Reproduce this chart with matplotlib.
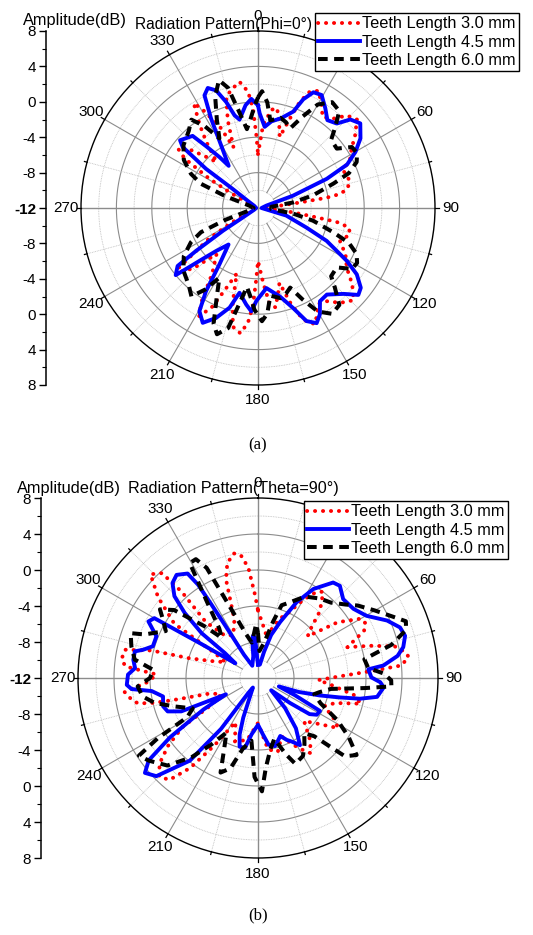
import numpy as np
import matplotlib
matplotlib.use("Agg")
import matplotlib.pyplot as plt

plt.rcParams["font.family"] = ["Liberation Sans", "DejaVu Sans"]

W, H = 533, 935

# ---------------- data: (a) Phi = 0 deg ----------------
a_ang_30 = [0, 3.5, 7.8, 10.8, 13.8, 17, 19.6, 21.5, 24, 27.3, 31.3, 35.4, 40.1, 43.9, 48.2, 53.2, 57.7, 61.9, 66, 70,
            74, 78, 80.3, 81.5, 82.5, 84, 88, 93, 96, 98, 100, 102, 106, 112, 118, 124, 129, 134, 139, 144,
            148, 151, 154, 158, 161, 164, 167, 170, 173, 176, 180, 181.5, 183, 185, 188, 192, 195, 198, 202, 205,
            208.5, 211, 215, 222, 227, 231, 233, 238, 241, 245, 270, 295, 299, 301, 304, 306.7, 310, 314, 318, 322,
            325, 328.5, 331, 335, 338, 341, 344, 347.2, 351.7, 355.1, 357.1, 358.7, 360]
a_db_30 = [-5.9, -2.6, -0.8, -0.5, -2.0, -3.6, -1.3, 0.9, 2.4, 2.9, 1.8, 0.6, 1.2, 2.5, 3.0, 1.7, 0.5, -0.2, -1.5, -1.3,
           -1.2, -1.7, -2.6, -4.2, -7.2, -9.5, -11.5, -11.5, -9, -7, -3, -1.5, -1.2, -2.0, -0.8, 0.1, 1.7, 3.0, 2.2, 1.0,
           0.8, 1.8, 2.6, 1.6, -0.5, -3.2, -2.0, -0.6, -1.0, -3.5, -6.0, -3.8, -0.9, 1.0, 2.3, 1.7, -1.0, -4.2, -2.0, 0.4,
           1.9, 0.5, -3.0, -5.0, -2.0, -0.5, -0.8, -5.5, -8.5, -11, -11.5, -11, -8.3, -5.6, -2, -0.7, -1.5, -3.5, -5, -2.5,
           -0.5, 1.9, 0.5, -2, -4.6, -1.5, 1.0, 1.7, 2.4, 1.2, -0.75, -3.8, -5.9]

a_ang_45 = [0, 1, 4.7, 8.8, 14.6, 20.1, 22.6, 25.6, 29.4, 34, 38.3, 43, 46.2, 50.4, 55.8, 60.1, 64, 67, 70.6, 74,
            90, 105, 112, 115.6, 120.8, 123.9, 127.8, 130.9, 135.1, 141.5, 146.4, 149.8, 153, 156.8, 160.6, 166.1, 174, 181, 183.7, 186.9,
            192.3, 195.9, 200.9, 205.7, 209.6, 212, 214.4, 218.9, 224.3, 227.9, 230.1, 230.8, 234.2, 235.3, 237, 238, 245, 270, 300, 304,
            307, 307, 309, 311, 317.8, 320, 322.9, 325.2, 329.5, 332.3, 334.6, 337.3, 340.4, 343.3, 345.8, 348.2, 353.1, 356.5, 360]
a_db_45 = [-0.4, -1.3, -2.8, -2.1, -1.5, -0.4, 1.3, 2.5, 2.65, 1.6, 0.65, 1.05, 2.45, 3.0, 2.0, 0.7, -0.8, -3.55, -7.8, -11,
           -11.6, -8.7, -6.1, -3.4, -0.3, 1.45, 2.7, 3.0, 1.7, 0.5, 0.65, 1.9, 2.6, 1.9, 0.0, -1.7, -2.9, -1.5, -0.3, -1.0,
           -2.2, -0.3, 1.3, 2.4, 1.4, -0.9, -4.3, -6.7, -5.2, -3.1, -0.9, 0.0, -0.8, -3.5, -7.3, -10, -11.5, -11.8, -11.5, -10.9,
           -8.4, -4.65, -1.05, -0.33, -1.0, -2.9, -4.8, -6.2, -3.8, -0.6, 2.1, 2.7, 2.1, 0.5, -1.2, -1.8, -0.3, 0.35, -0.4]

a_ang_60 = [0, 2, 5, 8, 14, 18, 22, 26, 30, 35, 40, 44, 47, 53, 57, 61, 65, 69, 72, 77,
            81, 85, 95, 99, 103, 108, 111, 115, 119, 123, 127, 133, 136, 140, 145, 150, 154, 158, 162, 166,
            172, 175, 178, 182, 185, 188, 191, 194, 198, 201, 205, 209, 213, 217, 222, 230, 237, 243, 247, 250,
            255, 270, 285, 290, 293, 297, 303, 310, 318, 323, 327, 331, 335, 339, 343, 346, 349, 352, 355, 358, 360]
a_db_60 = [0.5, 1.2, 0.0, -2.0, -1.5, -1.8, -2.3, -0.5, 1.5, 2.6, 2.3, 0.5, -0.7, -0.85, 0.65, 0.8, 0.3, -1.0, -3.0, -5.6,
           -8.0, -10.5, -10.5, -8, -5.6, -3.0, -1.0, 0.3, 0.8, 0.65, -0.85, -0.7, 0.5, 2.3, 2.6, 1.5, -0.5, -2.3, -1.8, -1.5,
           -2.0, 0.0, 0.8, -0.5, -2.0, -3.0, -1.0, 2.0, 3.0, 2.0, -1.0, -3.0, -1.0, 0.5, -0.3, -1.0, -2.0, -3.5, -5, -8,
           -11, -11.5, -11, -8, -5, -3.5, -2.0, -1.0, -0.3, 0.5, -1.0, -3.0, -1.0, 1.5, 3.1, 2.0, -1.0, -3.0, -2.0, -0.5, 0.5]

# ---------------- data: (b) Theta = 90 deg ----------------
b_ang_30 = [0, 5, 10, 15, 20, 25, 30, 34, 37, 40, 43, 47, 50, 55, 60, 63, 66, 71, 74, 77,
            80, 82, 85, 86.5, 89, 92, 95, 100, 104, 108, 113, 118, 122, 127, 133, 140, 145, 150, 158, 165,
            172, 180, 190, 200, 207, 213, 217, 221, 225, 229, 233, 237, 240, 246, 252, 255, 256.5, 258, 260, 264,
            268, 272, 275, 278, 282, 284.5, 286, 290, 296, 300, 303, 309, 314, 317.5, 318.5, 317, 322, 330, 338, 342,
            345, 349, 352, 355, 358, 360]
b_db_30 = [-4.5, -6, -7, -6.5, -5, -4, -2, -0.5, 0.0, -1, -2, -4, -4.8, -1.2, 1.2, 1.4, 0.9, -1.5, 1.0, 3.6,
           4.6, 4.9, 4.0, 0.6, -3.1, -5.3, -4, -1.2, -0.2, -3, -4, -2.5, -1.5, -3.5, -5, -3, -1.8, -3, -5, -3.5,
           -4, -7, -5, -4.5, -6.5, -3, 0.5, 3.0, 3.5, 2.5, 0.5, -2, -6, -7.5, -6.5, -3, -0.2, 1.6, 2.2, 2.9,
           0.2, -0.7, 2.8, 3.3, 3.1, 0.2, -4, -6.5, -8, -6.4, -0.9, 2.3, 4.6, 3.8, 0.8, -3.5, -6, -6.5, -5, -0.5,
           1.2, 2.1, 1.8, 0.3, -2.8, -4.5]

b_ang_45 = [0, 8, 13, 17, 21.6, 27, 31.9, 38.2, 41.6, 47.2, 54.1, 60.2, 66, 70.4, 74, 78, 81, 84.3, 85.5, 89.7,
            92, 94.3, 99, 101.5, 103.4, 105.8, 108.9, 112, 115, 118, 122, 125, 128, 133, 138, 143, 148, 152, 155, 159,
            163, 166, 171, 175, 180, 186.5, 190.6, 195, 198, 200.4, 203, 208, 213, 216, 219.5, 226, 230, 233, 236, 240,
            243, 246.5, 249.7, 253.4, 259, 263, 265, 267, 271.5, 274.6, 278.3, 282.2, 283.8, 286.8, 292.3, 297.3, 300, 301, 303, 307,
            308.5, 311.6, 314.4, 318, 321.7, 326, 327.3, 327.6, 328, 329, 335, 348, 351, 353, 356, 358, 360]
b_db_45 = [-10.5, -10.5, -9, -7, -5.3, -2.55, -0.35, 1.5, 1.7, 0.9, 1.1, 1.9, 3.7, 4.75, 5.0, 4.5, 3.7, 2.0, 0.3, 0.6,
           1.6, 2.0, 1.4, -0.45, -2.7, -4.9, -7.2, -9.5, -7.5, -4.2, -4.3, -5.0, -7.5, -10, -7.5, -5, -3.2, -4.0, -4.4, -5.1,
           -4.6, -4.2, -4.5, -5.7, -6.8, -5.7, -4.1, -4.1, -5.4, -7.3, -9.6, -10.8, -10, -5, -0.1, 3.7, 4.4, 3.2, -0.2, -5,
           -8, -2.7, -1.3, -1.0, -1.25, -0.1, 2.1, 2.6, 2.45, 1.7, 2.0, 2.0, 1.15, 0.2, 0.2, 1.7, 1.3, -4.6, -9, -7.4,
           -4.0, -1.1, 1.0, 2.2, 2.6, 2.0, 0.3, -2.0, -5, -9, -10.5, -9.5, -8, -7.3, -7.5, -10, -10.5]

b_ang_60 = [0, 3, 10, 15, 18, 22, 30, 38, 44, 50, 54, 60, 65, 69, 72, 76, 80, 84.8, 88, 91,
            93.6, 95.4, 98.5, 103, 106, 112, 118, 123, 128, 132, 136, 140, 145, 150, 156.5, 160, 165, 170, 175, 178,
            182, 186, 192, 197, 201.6, 205, 210, 215, 220, 226, 232.8, 236.9, 239, 241, 245, 251.2, 256.4, 261, 266, 270,
            274.5, 278.5, 284, 289.4, 291, 297, 302, 305, 309, 314, 318, 322, 326, 329.3, 332.4, 335, 339.7, 345, 350, 355,
            358, 360]
b_db_60 = [-7, -9, -8, -5.5, -3.5, -3.0, -1.55, -0.8, -0.35, 0.7, 1.7, 3.0, 4.3, 5.6, 5.3, 3.3, 0.0, 0.3, 2.0, 2.8,
           2.85, -0.1, -3.8, -5, -5.5, -4.5, -2, 0, 1.9, 1.0, -3, -4, -3, -2, -1.6, -3, -5, -4, -2, 0.6,
           -1, -5, -4, -1.5, -0.7, -3, -5, -3, -0.5, 2.0, 3.2, 3.8, 1, -3, -4, -2.2, -0.2, 1.0, 1.4, 0.0,
           -0.3, 1.85, 2.5, 3.0, 1.5, -0.5, 0.5, 1.3, 0.0, -3.7, -6, -5, -2, 2.85, 2.9, 1.5, -4.5, -7, -8, -7,
           -6, -7]

labels = ["Teeth Length 3.0 mm", "Teeth Length 4.5 mm", "Teeth Length 6.0 mm"]
styles = [dict(color="#ff0000", lw=2.8, ls=(0, (0.05, 2.0)), dash_capstyle="round"),
          dict(color="#0000ff", lw=2.8, ls="-"),
          dict(color="black", lw=2.9, ls=(0, (2.4, 1.6)))]

R0, R1 = -12, 8


def polar_panel(cx, cy, rad, series, left_x, leg_box):
    ax = fig.add_axes([(cx - rad) / W, 1 - (cy + rad) / H, 2 * rad / W, 2 * rad / H], projection="polar")
    ax.set_theta_zero_location("N")
    ax.set_theta_direction(-1)
    ax.set_rlim(R0, R1)
    ax.grid(False)
    ax.set_xticks([])
    ax.set_yticks([])
    ax.spines["polar"].set_linewidth(1.0)
    full = np.linspace(0, 2 * np.pi, 361)
    for r in [-8, -4, 0, 4]:
        ax.plot(full, np.full_like(full, r), color="#8c8c8c", lw=0.8, zorder=1)
    for r in [-10, -6, -2, 2, 6]:
        ax.plot(full, np.full_like(full, r), color="#bdbdbd", lw=0.6, ls=(0, (1, 1)), zorder=1)
    for a in range(0, 360, 15):
        t = np.deg2rad(a)
        if a % 90 == 0:
            ax.plot([t, t], [R0, R1], color="#8c8c8c", lw=1.0, zorder=1)
        elif a % 30 == 0:
            ax.plot([t, t], [-10, R1], color="#8c8c8c", lw=0.8, zorder=1)
        else:
            ax.plot([t, t], [-10, R1], color="#bdbdbd", lw=0.6, ls=(0, (1, 1)), zorder=1)
        tl = 0.45 if a % 30 == 0 else 0.3
        ax.plot([t, t], [R1, R1 + tl], color="black", lw=0.9, clip_on=False)
        if a % 30 == 0:
            ax.text(t, R1 + 20 * 15.5 / rad, str(a), ha="center", va="center", fontsize=11)

    handles = []
    for (ang, db), st, lab in zip(series, styles, labels):
        h, = ax.plot(np.deg2rad(ang), db, label=lab, zorder=3, **st)
        handles.append(h)

    # amplitude scale on the left
    lax = fig.add_axes([left_x / W, 1 - (cy + rad) / H, 0.0005, 2 * rad / H])
    for s in ["top", "right", "bottom"]:
        lax.spines[s].set_visible(False)
    lax.spines["left"].set_linewidth(1.1)
    lax.set_ylim(-20, 20)
    lax.set_xticks([])
    lax.set_yticks(np.arange(-20, 21, 4))
    lax.set_yticks(np.arange(-20, 21, 2), minor=True)
    lax.set_yticklabels([f"{abs(v) - 12:g}" for v in np.arange(-20, 21, 4)], fontsize=11)
    lax.tick_params(axis="y", which="major", length=5, width=1, pad=2)
    lax.tick_params(axis="y", which="minor", length=3, width=0.8)
    for lbl in lax.get_yticklabels():
        if lbl.get_text() == "-12":
            lbl.set_fontweight("bold")

    leg = fig.legend(handles=handles, loc="upper right", bbox_to_anchor=leg_box,
                     fontsize=11.8, frameon=True, fancybox=False, framealpha=1,
                     edgecolor="black", borderpad=0.2, labelspacing=0.2,
                     handlelength=2.6, handletextpad=0.1, borderaxespad=0)
    leg.get_frame().set_linewidth(1.0)
    return ax


fig = plt.figure(figsize=(W / 100, H / 100), dpi=100)

polar_panel(258, 208, 177, [(a_ang_30, a_db_30), (a_ang_45, a_db_45), (a_ang_60, a_db_60)],
            46, (519 / W, 1 - 13 / H))
polar_panel(258, 678, 180, [(b_ang_30, b_db_30), (b_ang_45, b_db_45), (b_ang_60, b_db_60)],
            41, (508 / W, 1 - 501 / H))

fig.text(23 / W, 1 - 20 / H, "Amplitude(dB)", fontsize=11.8, va="center", ha="left")
fig.text(135 / W, 1 - 25 / H, "Radiation Pattern(Phi=0°)", fontsize=11.2, va="center", ha="left")
fig.text(17 / W, 1 - 488 / H, "Amplitude(dB)", fontsize=11.8, va="center", ha="left")
fig.text(128 / W, 1 - 488 / H, "Radiation Pattern(Theta=90°)", fontsize=11.6, va="center", ha="left")

fig.text(258 / W, 1 - 445 / H, "(a)", fontsize=12, ha="center", va="center", family="Liberation Serif")
fig.text(258 / W, 1 - 915 / H, "(b)", fontsize=12, ha="center", va="center", family="Liberation Serif")

fig.savefig("out.png", dpi=100)
